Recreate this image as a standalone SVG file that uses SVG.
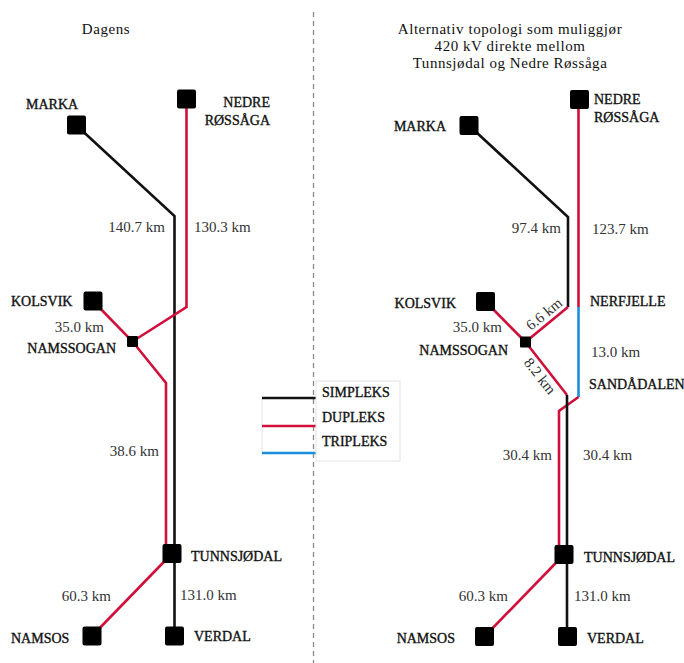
<svg xmlns="http://www.w3.org/2000/svg" width="684" height="663" viewBox="0 0 684 663">
  <style>
    text { font-family: "Liberation Serif", "DejaVu Serif", serif; fill: #111; }
    .title { font-size: 15px; letter-spacing: 0.55px; text-anchor: middle; }
    .name { font-size: 14px; stroke: #111; stroke-width: 0.35; }
    .km { font-size: 15px; fill: #333; }
    .end { text-anchor: end; }
    .line { fill: none; stroke-width: 2.6; stroke-linejoin: miter; }
    .simplex { stroke: #111; }
    .duplex { stroke: #d0103a; }
    .triplex { stroke: #1a8fdc; }
    .station { fill: #000; }
  </style>

  <rect width="684" height="663" fill="#fff"/>

  <!-- divider between the two panels -->
  <line x1="313.5" y1="12" x2="313.5" y2="663" stroke="#8a8a8a" stroke-width="1.3" stroke-dasharray="5 4"/>

  <!-- panel headings -->
  <text class="title" x="106" y="34">Dagens</text>
  <text class="title" x="510" y="34">Alternativ topologi som muliggjør</text>
  <text class="title" x="510" y="51">420 kV direkte mellom</text>
  <text class="title" x="510" y="68">Tunnsjødal og Nedre Røssåga</text>

  <!-- connectors -->
  <g id="connectors">
    <!-- today -->
    <path class="line simplex" d="M76,125 L174.5,216 L174.5,636"/>
    <path class="line duplex" d="M186.5,99 L186.5,307 L132.5,341.5"/>
    <path class="line duplex" d="M93,301 L132.5,341.5 L166,383 L166,553.5"/>
    <path class="line duplex" d="M172,553.5 L92,636"/>
    <!-- alternative -->
    <path class="line simplex" d="M469,125.5 L568,217 L568,307"/>
    <path class="line duplex" d="M578.5,99.5 L578.5,307"/>
    <path class="line triplex" d="M578.5,307 L578.5,397"/>
    <path class="line duplex" d="M578.5,397 L559,411 L559,554.5"/>
    <path class="line duplex" d="M568,307 L525.5,342 L567,395"/>
    <path class="line duplex" d="M485.5,301.5 L525.5,342"/>
    <path class="line simplex" d="M567,395 L567,636.5"/>
    <path class="line duplex" d="M564,554.5 L484.5,636.5"/>
  </g>

  <!-- legend -->
  <g id="legend">
    <line x1="262" y1="398" x2="262" y2="456" stroke="#e4e4e4" stroke-width="1"/>
    <line class="line simplex" x1="262" y1="398" x2="316" y2="398"/>
    <line class="line duplex" x1="262" y1="426" x2="316" y2="426"/>
    <line class="line triplex" x1="262" y1="453" x2="316" y2="453"/>
    <rect x="316" y="381" width="84" height="80" fill="#fff" stroke="#e2e2e2" stroke-width="1"/>
    <text class="name" x="322" y="397">SIMPLEKS</text>
    <text class="name" x="322" y="422">DUPLEKS</text>
    <text class="name" x="322" y="446">TRIPLEKS</text>
  </g>

  <!-- stations, today -->
  <g id="marka-a"><rect class="station" x="67" y="115.5" width="19" height="19" rx="2"/><text class="name" x="26" y="109">MARKA</text></g>
  <g id="nedre-rossaga-a"><rect class="station" x="177" y="89.5" width="19" height="19" rx="2"/><text class="name end" x="270" y="107">NEDRE</text><text class="name end" x="270" y="125">RØSSÅGA</text></g>
  <g id="kolsvik-a"><rect class="station" x="83.5" y="291.5" width="19" height="19" rx="2"/><text class="name" x="11" y="306">KOLSVIK</text></g>
  <g id="namssogan-a"><rect class="station" x="127" y="336" width="11" height="11" rx="1"/><text class="name end" x="116" y="353">NAMSSOGAN</text></g>
  <g id="tunnsjodal-a"><rect class="station" x="162.5" y="544" width="19" height="19" rx="2"/><text class="name" x="191" y="561">TUNNSJØDAL</text></g>
  <g id="namsos-a"><rect class="station" x="82.5" y="626.5" width="19" height="19" rx="2"/><text class="name" x="11" y="643">NAMSOS</text></g>
  <g id="verdal-a"><rect class="station" x="165" y="626.5" width="19" height="19" rx="2"/><text class="name" x="194" y="641">VERDAL</text></g>

  <!-- distances, today -->
  <text class="km end" x="165" y="232">140.7 km</text>
  <text class="km" x="194" y="232">130.3 km</text>
  <text class="km end" x="104" y="332">35.0 km</text>
  <text class="km end" x="159" y="456">38.6 km</text>
  <text class="km end" x="111" y="601">60.3 km</text>
  <text class="km" x="180" y="600">131.0 km</text>

  <!-- stations, alternative -->
  <g id="marka-b"><rect class="station" x="459.5" y="116" width="19" height="19" rx="2"/><text class="name end" x="446" y="131">MARKA</text></g>
  <g id="nedre-rossaga-b"><rect class="station" x="570" y="90" width="19" height="19" rx="2"/><text class="name" x="594" y="104">NEDRE</text><text class="name" x="594" y="122">RØSSÅGA</text></g>
  <g id="kolsvik-b"><rect class="station" x="476" y="292" width="19" height="19" rx="2"/><text class="name end" x="456" y="308">KOLSVIK</text></g>
  <g id="namssogan-b"><rect class="station" x="520" y="336.5" width="11" height="11" rx="1"/><text class="name end" x="508" y="355">NAMSSOGAN</text></g>
  <g id="nerfjelle"><text class="name" x="590" y="306">NERFJELLE</text></g>
  <g id="sandadalen"><text class="name" x="589" y="389">SANDÅDALEN</text></g>
  <g id="tunnsjodal-b"><rect class="station" x="554.5" y="545" width="19" height="19" rx="2"/><text class="name" x="584" y="562">TUNNSJØDAL</text></g>
  <g id="namsos-b"><rect class="station" x="475" y="627" width="19" height="19" rx="2"/><text class="name end" x="455" y="643">NAMSOS</text></g>
  <g id="verdal-b"><rect class="station" x="558" y="627" width="19" height="19" rx="2"/><text class="name" x="587" y="643">VERDAL</text></g>

  <!-- distances, alternative -->
  <text class="km end" x="561" y="233">97.4 km</text>
  <text class="km" x="592" y="234">123.7 km</text>
  <text class="km end" x="502" y="332">35.0 km</text>
  <text class="km" text-anchor="middle" transform="translate(544,314) rotate(-39)" dy="5">6.6 km</text>
  <text class="km" text-anchor="middle" transform="translate(540,376) rotate(52)" dy="5">8.2 km</text>
  <text class="km" x="591" y="357">13.0 km</text>
  <text class="km end" x="552" y="460">30.4 km</text>
  <text class="km" x="583" y="460">30.4 km</text>
  <text class="km end" x="508" y="601">60.3 km</text>
  <text class="km" x="574" y="601">131.0 km</text>
</svg>
